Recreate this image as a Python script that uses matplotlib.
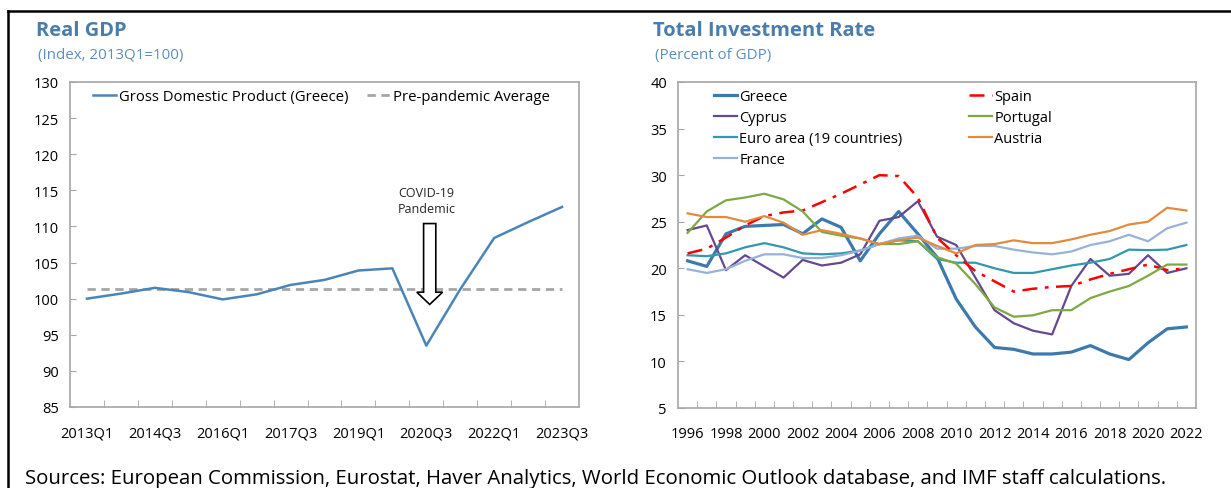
import matplotlib
matplotlib.use('Agg')
import matplotlib.pyplot as plt
from matplotlib.lines import Line2D
from matplotlib.patches import FancyArrow
import numpy as np

plt.rcParams['font.family'] = ['Open Sans', 'DejaVu Sans']

# Left panel: Real GDP, index 2013Q1=100
gdp_labels = ['2013Q1', '', '2014Q3', '', '2016Q1', '', '2017Q3', '', '2019Q1', '',
              '2020Q3', '', '2022Q1', '', '2023Q3']
gdp_values = [100.0, 100.7, 101.5, 100.9, 99.9, 100.6, 101.9, 102.6, 103.9, 104.2,
              93.5, 101.3, 108.4, 110.6, 112.7]
pre_pandemic_avg = 101.4

# Right panel: total investment rate, percent of GDP
years = list(range(1996, 2023))
greece = [20.8, 20.2, 23.7, 24.5, 24.6, 24.7, 23.7, 25.3, 24.4, 20.8, 23.7, 26.1, 23.7, 21.2,
          16.7, 13.7, 11.5, 11.3, 10.8, 10.8, 11.0, 11.7, 10.8, 10.2, 12.0, 13.5, 13.7]
spain = [21.6, 22.1, 23.3, 24.6, 25.6, 26.0, 26.2, 27.1, 28.0, 29.0, 30.0, 29.9, 27.6, 23.3,
         21.4, 19.7, 18.6, 17.5, 17.8, 18.0, 18.1, 18.8, 19.4, 19.9, 20.4, 19.8, 20.0]
cyprus = [24.1, 24.6, 19.8, 21.4, 20.2, 19.0, 20.9, 20.3, 20.6, 21.5, 25.1, 25.5, 27.2, 23.4,
          22.5, 19.0, 15.5, 14.1, 13.3, 12.9, 18.1, 21.0, 19.2, 19.4, 21.4, 19.5, 20.0]
portugal = [23.8, 26.1, 27.3, 27.6, 28.0, 27.4, 26.1, 23.9, 23.5, 23.2, 22.6, 22.6, 22.9, 21.2,
            20.5, 18.3, 15.8, 14.8, 14.95, 15.5, 15.5, 16.8, 17.5, 18.1, 19.2, 20.4, 20.4]
euro_area = [21.4, 21.3, 21.6, 22.25, 22.7, 22.25, 21.6, 21.5, 21.6, 21.9, 22.6, 23.0, 22.9, 21.0,
             20.6, 20.6, 20.0, 19.5, 19.5, 19.9, 20.3, 20.6, 21.0, 22.0, 21.95, 22.0, 22.5]
austria = [25.9, 25.5, 25.5, 25.0, 25.6, 24.9, 23.6, 24.1, 23.7, 23.2, 22.6, 23.0, 23.3, 22.4,
           21.6, 22.5, 22.6, 23.0, 22.7, 22.7, 23.1, 23.6, 24.0, 24.7, 25.0, 26.5, 26.2]
france = [19.9, 19.5, 19.9, 20.8, 21.5, 21.5, 21.1, 21.1, 21.4, 21.9, 22.6, 23.2, 23.5, 22.1,
          22.1, 22.4, 22.4, 22.0, 21.7, 21.5, 21.8, 22.5, 22.9, 23.6, 22.9, 24.3, 24.9]

title_color = '#4A7DAB'
sub_color = '#5B8EBC'

fig = plt.figure(figsize=(12.31, 4.89), dpi=100)

# ---- left panel ----
ax1 = fig.add_axes([70 / 1231, 1 - 408 / 489, 509 / 1231, 325 / 489])
x1 = np.arange(len(gdp_values))
ax1.plot(x1, [pre_pandemic_avg] * len(x1), color='#A6A6A6', lw=2, ls=(0, (3, 2)),
         label='Pre-pandemic Average', zorder=2)
ax1.plot(x1, gdp_values, color='#4A85B8', lw=1.8, label='Gross Domestic Product (Greece)', zorder=3)
ax1.set_xlim(-0.5, len(x1) - 0.5)
ax1.set_ylim(85, 130)
ax1.set_yticks(np.arange(85, 131, 5))
ax1.set_xticks(x1[::2])
ax1.set_xticklabels([l for l in gdp_labels if l])
ax1.set_xticks(x1[:-1] + 0.5, minor=True)

arrow = FancyArrow(10.1, 110.4, 0, -11.2, width=0.36, head_width=0.76, head_length=1.7,
                   length_includes_head=True, fc='white', ec='black', lw=1.2, zorder=4)
ax1.add_patch(arrow)
ax1.text(10.0, 113.6, 'COVID-19\nPandemic', ha='center', va='center', fontsize=9,
         color='#262626', linespacing=1.3)

h, l = ax1.get_legend_handles_labels()
ax1.legend(h[::-1], l[::-1], ncol=2, loc='center left', bbox_to_anchor=(0.046, 0.954),
           frameon=False, fontsize=10.7, handlelength=1.55, handletextpad=0.15,
           columnspacing=1.3, borderpad=0, borderaxespad=0)

# ---- right panel ----
ax2 = fig.add_axes([678 / 1231, 1 - 409 / 489, 518 / 1231, 326 / 489])
x2 = np.arange(len(years))
ax2.plot(x2, greece, color='#3C7AAE', lw=2.3, label='Greece')
ax2.plot(x2, cyprus, color='#65498F', lw=1.6, label='Cyprus')
ax2.plot(x2, euro_area, color='#3397AE', lw=1.6, label='Euro area (19 countries)')
ax2.plot(x2, france, color='#97B2D8', lw=1.6, label='France')
ax2.plot(x2, spain, color='#FF0000', lw=1.8, ls=(0, (6, 3, 1.5, 3)), label='Spain')
ax2.plot(x2, portugal, color='#7DA944', lw=1.6, label='Portugal')
ax2.plot(x2, austria, color='#E48A3C', lw=1.6, label='Austria')
ax2.set_xlim(-0.5, len(years) - 0.5)
ax2.set_ylim(5, 40)
ax2.set_yticks(np.arange(5, 41, 5))
ax2.set_xticks(x2[::2])
ax2.set_xticklabels([str(y) for y in years[::2]])
ax2.set_xticks(x2[:-1] + 0.5, minor=True)
ax2.legend(ncol=2, loc='center left', bbox_to_anchor=(0.069, 0.859), frameon=False,
           fontsize=10.5, handlelength=1.6, handletextpad=0.15, columnspacing=4.55,
           labelspacing=0.4, borderpad=0, borderaxespad=0)

for ax in (ax1, ax2):
    for s in ax.spines.values():
        s.set_color('#A6A6A6')
        s.set_linewidth(1.2)
    ax.tick_params(axis='y', direction='in', length=4, color='#A6A6A6', labelsize=10.5, pad=8)
    ax.tick_params(axis='x', which='major', length=0, labelsize=10.5, pad=13)
    ax.tick_params(axis='x', which='minor', direction='in', length=5, color='#A6A6A6')

# titles
fig.text(36 / 1231, 1 - 31 / 489, 'Real GDP', fontsize=14.5, fontweight='bold',
         color=title_color, va='center')
fig.text(38 / 1231, 1 - 55 / 489, '(Index, 2013Q1=100)', fontsize=10.9, color=sub_color, va='center')
fig.text(653 / 1231, 1 - 31 / 489, 'Total Investment Rate', fontsize=14.5, fontweight='bold',
         color=title_color, va='center')
fig.text(655 / 1231, 1 - 55 / 489, '(Percent of GDP)', fontsize=10.9, color=sub_color, va='center')

fig.text(25 / 1231, 1 - 479 / 489,
         'Sources: European Commission, Eurostat, Haver Analytics, World Economic Outlook database, '
         'and IMF staff calculations.', fontsize=14.7, va='center')

# outer frame (top and left edges)
fig.add_artist(Line2D([8 / 1231, 1], [1 - 12 / 489, 1 - 12 / 489], color='black', lw=1.8))
fig.add_artist(Line2D([8 / 1231, 8 / 1231], [0, 1 - 12 / 489], color='black', lw=1.8))

fig.savefig('out.png', dpi=100)
